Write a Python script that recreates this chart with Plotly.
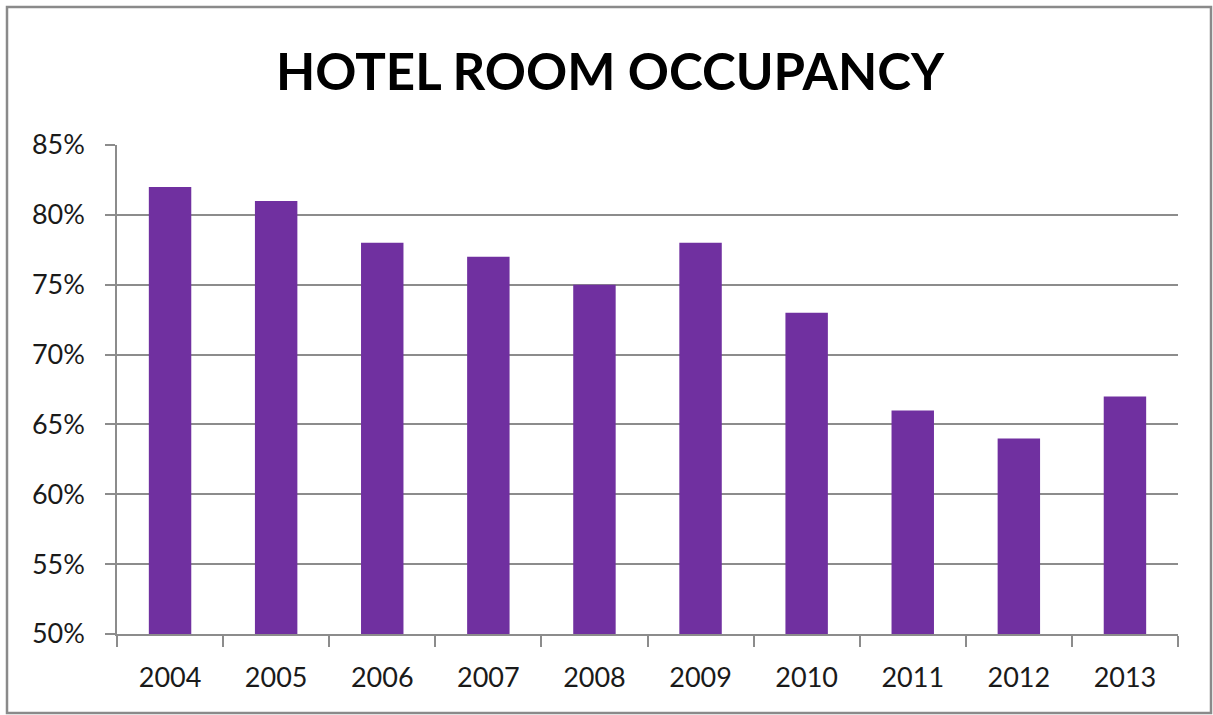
import plotly.graph_objects as go

years = ["2004", "2005", "2006", "2007", "2008", "2009", "2010", "2011", "2012", "2013"]
occupancy = [0.82, 0.81, 0.78, 0.77, 0.75, 0.78, 0.73, 0.66, 0.64, 0.67]

grid_col = "#8c8c8c"
txt_col = "#1a1a1a"

fig = go.Figure(go.Bar(x=years, y=occupancy, marker=dict(color="#7030A0", line=dict(width=0))))

fig.update_layout(
    width=1213, height=715,
    margin=dict(l=117, r=35, t=145, b=81),
    paper_bgcolor="white", plot_bgcolor="white",
    bargap=0.6,
    showlegend=False,
    font=dict(family="Lato, sans-serif", size=27, color=txt_col),
    title=dict(text="<b>HOTEL ROOM OCCUPANCY</b>", x=610 / 1213, xanchor="center",
               y=1 - 72 / 715, yanchor="middle",
               font=dict(family="Lato, sans-serif", size=51, color="black")),
)

fig.update_xaxes(
    showline=True, linecolor=grid_col, linewidth=1.5,
    ticks="outside", tickson="boundaries", ticklen=11, tickcolor=grid_col, tickwidth=1.5,
    ticklabelstandoff=19, showgrid=False,
)
fig.update_yaxes(
    range=[0.5, 0.85], dtick=0.05, tickformat=".0%",
    showline=True, linecolor=grid_col, linewidth=1.5,
    showgrid=True, gridcolor=grid_col, gridwidth=1.5,
    ticks="outside", ticklen=10, tickcolor=grid_col, tickwidth=1.5,
    ticklabelstandoff=15, zeroline=False,
)

# outer chart border
fig.add_shape(type="rect", xref="paper", yref="paper",
              x0=(7 - 117) / 1061, x1=(1211 - 117) / 1061,
              y0=(634 - 713) / 489, y1=(634 - 7) / 489,
              line=dict(color="#8a8a8a", width=2.5), layer="below")

# drop the default page margin so the figure sits at the window corner
fig.write_html("out.html", config={"displayModeBar": False},
               post_script="document.body.style.margin='0';")
